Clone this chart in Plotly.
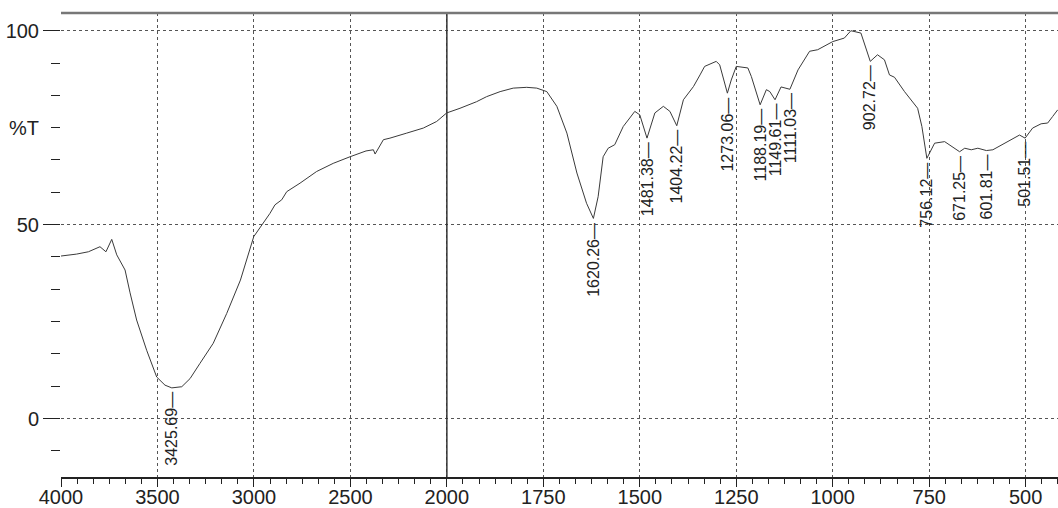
import numpy as np
import plotly.graph_objects as go

# IR spectrum: wavenumber (cm-1) and transmittance (%T)
wavenumber = [4000, 3919, 3858, 3798, 3767, 3737, 3711, 3668, 3642, 3608, 3556, 3504, 3461,
              3425.69, 3374, 3331, 3280, 3211, 3141, 3070, 3001, 2951, 2917, 2891, 2856, 2830,
              2761, 2675, 2589, 2502, 2419, 2381, 2372, 2329, 2295, 2208, 2122, 2053, 2001,
              1966, 1923, 1897, 1862, 1828, 1793, 1767, 1741, 1715, 1689, 1663, 1638, 1620.26,
              1608, 1595, 1582, 1565, 1543, 1526, 1513, 1500, 1481.38, 1461, 1439, 1422, 1404.22,
              1387, 1361, 1344, 1332, 1302, 1293, 1273.06, 1263, 1250, 1220, 1211, 1188.19, 1172,
              1163, 1149.61, 1134, 1111.03, 1090, 1060, 1039, 1000, 970, 953, 927, 902.72, 884,
              866, 853, 840, 814, 780, 769, 756.12, 736, 710, 689, 671.25, 658, 641, 624, 601.81,
              585, 555, 516, 501.51, 482, 460, 443, 430, 417]
transmittance = [41.9, 42.4, 43.0, 44.3, 43.0, 46.2, 42.2, 38.3, 32.4, 25.4, 17.6, 10.7, 8.6,
                 7.9, 8.2, 10.3, 14.2, 19.4, 27.1, 35.7, 46.9, 50.3, 52.9, 55.1, 56.4, 58.5,
                 60.7, 63.7, 65.8, 67.5, 69.0, 69.3, 68.2, 71.9, 72.3, 73.6, 74.9, 76.6, 78.8,
                 80.0, 81.7, 83.0, 84.3, 85.2, 85.4, 85.2, 84.3, 80.5, 73.6, 63.3, 55.5, 51.6,
                 57.2, 67.5, 69.7, 70.6, 75.3, 77.5, 79.2, 78.3, 72.3, 78.8, 80.5, 79.2, 75.5,
                 82.2, 85.6, 88.6, 90.8, 92.1, 91.2, 83.9, 87.3, 90.8, 90.4, 88.2, 80.9, 84.8,
                 84.3, 82.2, 85.5, 84.9, 89.9, 94.7, 95.1, 97.2, 98.1, 100.0, 99.4, 92.1, 93.8,
                 92.5, 88.6, 88.0, 84.3, 80.0, 75.3, 67.1, 71.0, 71.4, 70.1, 68.8, 69.7, 69.3, 69.7, 69.1,
                 69.3, 71.0, 73.1, 72.3, 74.9, 76.0, 76.2, 77.9, 79.6]

peak_wavenumbers = [3425.69, 1620.26, 1481.38, 1404.22, 1273.06, 1188.19, 1149.61, 1111.03,
                    902.72, 756.12, 671.25, 601.81, 501.51]
peak_texts = ["3425.69", "1620.26", "1481.38", "1404.22", "1273.06", "1188.19", "1149.61",
              "1111.03", "902.72", "756.12", "671.25", "601.81", "501.51"]

x_tick_wavenumbers = [4000, 3500, 3000, 2500, 2000, 1750, 1500, 1250, 1000, 750, 500]
x_tick_labels = ["4000", "3500", "3000", "2500", "2000", "1750", "1500", "1250", "1000", "750", "500"]
y_tick_values = [0, 50, 100]
y_tick_labels = ["0", "50", "100"]


def to_axis(w):
    """Piecewise wavenumber scale: 4000-2000 compressed x2 relative to 2000-400."""
    w = np.asarray(w, dtype=float)
    return np.where(w >= 2000, (4000 - w) / 500.0, 4 + (2000 - w) / 250.0)


xs = to_axis(wavenumber)
order = np.argsort(xs)
peak_x = to_axis(peak_wavenumbers)
peak_y = np.interp(peak_x, xs[order], np.asarray(transmittance)[order])

font_fam = "Liberation Sans, Arial, sans-serif"

fig = go.Figure()
fig.add_trace(go.Scatter(x=xs, y=transmittance, mode="lines",
                         line=dict(color="#3a3a3a", width=1), hoverinfo="skip",
                         showlegend=False))

for px_, py_, txt in zip(peak_x, peak_y, peak_texts):
    fig.add_annotation(x=px_, y=py_, xref="x", yref="y", text=txt + "\u2014",
                       textangle=-90, showarrow=False, xanchor="center", yanchor="top",
                       yshift=-3, font=dict(family=font_fam, size=16, color="#222"),
                       borderpad=0)

fig.add_annotation(x=0, y=75, xref="paper", yref="y", text="%T", showarrow=False,
                   xanchor="right", yanchor="middle", xshift=-20,
                   font=dict(family=font_fam, size=20, color="#222"))

# solid line at the scale break (2000)
fig.add_shape(type="line", xref="x", yref="paper", x0=to_axis(2000).item(),
              x1=to_axis(2000).item(), y0=0, y1=1, line=dict(color="#333", width=1.5))
# top frame
fig.add_shape(type="line", xref="paper", yref="paper", x0=0, x1=1, y0=1, y1=1,
              line=dict(color="#777", width=2.5))

fig.update_xaxes(range=[0, 10.335], tickmode="array", tickvals=to_axis(x_tick_wavenumbers),
                 ticktext=x_tick_labels, ticks="outside", ticklen=8, tickcolor="#222",
                 ticklabelstandoff=-7,
                 showline=True, linecolor="#222", linewidth=1.5, zeroline=False,
                 showgrid=True, gridcolor="#555", griddash="dot", gridwidth=1,
                 tickfont=dict(family=font_fam, size=20, color="#222"),
                 minor=dict(tick0=0, dtick=1 / 6, ticks="outside", ticklen=5,
                            tickcolor="#222", showgrid=False),
                 automargin=False, fixedrange=True)
fig.update_yaxes(range=[-15.08, 104.57], tickmode="array", tickvals=y_tick_values,
                 ticktext=y_tick_labels, ticks="outside", ticklen=17, tickcolor="#222",
                 showline=False, zeroline=False,
                 showgrid=True, gridcolor="#555", griddash="dot", gridwidth=1,
                 tickfont=dict(family=font_fam, size=20, color="#222"),
                 minor=dict(tick0=0, dtick=100 / 12, ticks="outside", ticklen=9,
                            tickcolor="#222", showgrid=False),
                 automargin=False, fixedrange=True)

fig.update_layout(width=1058, height=508, margin=dict(l=61, r=0, t=13, b=31),
                  plot_bgcolor="white", paper_bgcolor="white", showlegend=False)

fig.write_html("out.html")
